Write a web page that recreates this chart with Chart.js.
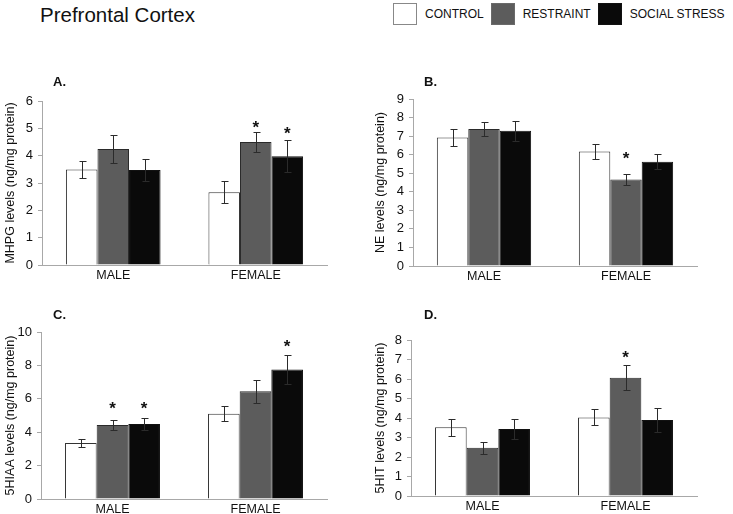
<!DOCTYPE html>
<html>
<head>
<meta charset="utf-8">
<script src="https://cdn.jsdelivr.net/npm/chart.js@4/dist/chart.umd.min.js"></script>
<style>
  html, body { margin: 0; padding: 0; background: #fff; }
  body { width: 733px; height: 514px; position: relative; overflow: hidden;
         font-family: "Liberation Sans", Arial, sans-serif; color: #111; }
  #title { position: absolute; left: 40px; top: 5px; font-size: 20.5px; line-height: 1; }
  #legend { position: absolute; left: 393px; top: 3px; display: flex; align-items: center; }
  .item { display: flex; align-items: center; margin-right: 7px; font-size: 12px; }
  .box { width: 24px; height: 22px; margin-right: 8px; box-sizing: border-box; border: 1px solid #777; }
  canvas { position: absolute; }
</style>
</head>
<body>
<div id="title">Prefrontal Cortex</div>
<div id="legend"></div>
<canvas id="chartA"></canvas>
<canvas id="chartB"></canvas>
<canvas id="chartC"></canvas>
<canvas id="chartD"></canvas>
<script>
'use strict';

// ── data (rows = series, columns = groups) ──
const groups = ['MALE', 'FEMALE'];
const series = ['CONTROL', 'RESTRAINT', 'SOCIAL STRESS'];

const mhpgMeans = [[3.49, 2.66], [4.24, 4.50], [3.48, 3.98]];
const mhpgSem   = [[0.31, 0.40], [0.50, 0.35], [0.39, 0.58]];
const mhpgStars = [[null, null], [null, 5.20], [null, 4.96]];

const neMeans = [[6.93, 6.17], [7.38, 4.66], [7.29, 5.62]];
const neSem   = [[0.47, 0.43], [0.39, 0.31], [0.54, 0.40]];
const neStars = [[null, null], [null, 6.03], [null, null]];

const hiaaMeans = [[3.35, 5.11], [4.43, 6.45], [4.49, 7.76]];
const hiaaSem   = [[0.26, 0.46], [0.32, 0.70], [0.36, 0.86]];
const hiaaStars = [[null, null], [5.69, null], [5.69, 9.38]];

const htMeans = [[3.52, 4.03], [2.48, 6.07], [3.44, 3.90]];
const htSem   = [[0.44, 0.41], [0.31, 0.65], [0.53, 0.63]];
const htStars = [[null, null], [null, 7.32], [null, null]];

// ── styles ──
const fills   = ['#ffffff', '#5c5c5c', '#0a0a0a'];
const borders = ['#333333', '#2a2a2a', '#111111'];
const legendBorders = ['#888', '#6a6a6a', '#111'];
const FONT = '"Liberation Sans", Arial, sans-serif';

// legend
const legendEl = document.getElementById('legend');
series.forEach((s, i) => {
    const item = document.createElement('div');
    item.className = 'item';
    item.innerHTML = `<span class="box" style="background:${fills[i]};border-color:${legendBorders[i]}"></span><span>${s}</span>`;
    legendEl.appendChild(item);
});

// error bars + asterisks + panel letter
const extrasPlugin = {
    id: 'extras',
    afterDatasetsDraw(chart, args, opts) {
        const { ctx, scales: { y }, chartArea } = chart;
        ctx.save();
        chart.data.datasets.forEach((ds, i) => {
            const meta = chart.getDatasetMeta(i);
            meta.data.forEach((bar, j) => {
                const v = ds.data[j], e = opts.sem[i][j];
                const top = Math.round(y.getPixelForValue(v + e)) + 0.5;
                const bot = Math.round(y.getPixelForValue(v - e)) + 0.5;
                const x = Math.round(bar.x) + 0.5;
                ctx.strokeStyle = '#2b2b2b';
                ctx.lineWidth = 1;
                ctx.beginPath();
                ctx.moveTo(x, top); ctx.lineTo(x, bot);
                ctx.moveTo(x - 3, top); ctx.lineTo(x + 4, top);
                ctx.moveTo(x - 3, bot); ctx.lineTo(x + 4, bot);
                ctx.stroke();
                const star = opts.stars[i][j];
                if (star != null) {
                    ctx.fillStyle = '#111';
                    ctx.font = 'bold 17px ' + FONT;
                    ctx.textAlign = 'center';
                    ctx.textBaseline = 'alphabetic';
                    ctx.fillText('*', bar.x, y.getPixelForValue(star) + 10);
                }
            });
        });
        ctx.fillStyle = '#111';
        ctx.font = 'bold 13px ' + FONT;
        ctx.textAlign = 'left';
        ctx.textBaseline = 'middle';
        ctx.fillText(opts.letter, chartArea.left + opts.letterDx, chartArea.top - opts.letterDy);
        ctx.restore();
    }
};

function makePanel(id, canvasBox, plot, means, sem, stars, yMax, yStep, yTitle, letter, letterDx, letterDy) {
    const el = document.getElementById(id);
    el.style.left = canvasBox.x + 'px';
    el.style.top = canvasBox.y + 'px';
    el.style.width = canvasBox.w + 'px';
    el.style.height = canvasBox.h + 'px';
    el.width = canvasBox.w;
    el.height = canvasBox.h;

    return new Chart(el, {
        type: 'bar',
        data: {
            labels: groups,
            datasets: series.map((s, i) => ({
                label: s,
                data: means[i],
                backgroundColor: fills[i],
                borderColor: borders[i],
                borderWidth: 1,
                categoryPercentage: 0.664,
                barPercentage: 1
            }))
        },
        options: {
            responsive: false,
            animation: false,
            layout: { padding: {
                left: 0,
                top: plot.t - canvasBox.y,
                right: canvasBox.x + canvasBox.w - plot.r,
                bottom: 0 } },
            plugins: {
                legend: { display: false },
                tooltip: { enabled: false },
                extras: { sem, stars, letter, letterDx, letterDy }
            },
            scales: {
                x: {
                    grid: { display: true, drawOnChartArea: false, drawTicks: false },
                    border: { color: '#a8a8a8', width: 1 },
                    ticks: { color: '#111', font: { family: FONT, size: 12.5 }, padding: 3 },
                    afterFit(scale) { scale.height = canvasBox.y + canvasBox.h - plot.b; }
                },
                y: {
                    min: 0, max: yMax,
                    grid: { display: true, drawOnChartArea: false, tickLength: 4, color: '#a8a8a8' },
                    border: { color: '#a8a8a8', width: 1 },
                    ticks: { stepSize: yStep, autoSkip: false, color: '#111',
                             font: { family: FONT, size: 13 }, padding: 5 },
                    title: { display: true, text: yTitle, color: '#111',
                             font: { family: FONT, size: 12.5 }, padding: { top: 3, bottom: 0 } },
                    afterFit(scale) { scale.width = plot.l - canvasBox.x; }
                }
            }
        },
        plugins: [extrasPlugin]
    });
}

makePanel('chartA', { x: 0, y: 70, w: 340, h: 220 }, { l: 42, t: 101, r: 327, b: 265 },
    mhpgMeans, mhpgSem, mhpgStars, 6, 1, 'MHPG levels (ng/mg protein)', 'A.', 11, 19);
makePanel('chartB', { x: 370, y: 70, w: 363, h: 220 }, { l: 413, t: 99, r: 697, b: 266 },
    neMeans, neSem, neStars, 9, 1, 'NE levels (ng/mg protein)', 'B.', 11, 17);
makePanel('chartC', { x: 0, y: 300, w: 340, h: 214 }, { l: 41, t: 332, r: 327, b: 499 },
    hiaaMeans, hiaaSem, hiaaStars, 10, 2, '5HIAA levels (ng/mg protein)', 'C.', 12, 17);
makePanel('chartD', { x: 370, y: 300, w: 363, h: 214 }, { l: 411, t: 340, r: 697, b: 496 },
    htMeans, htSem, htStars, 8, 1, '5HIT levels (ng/mg protein)', 'D.', 13, 25);
</script>
</body>
</html>
